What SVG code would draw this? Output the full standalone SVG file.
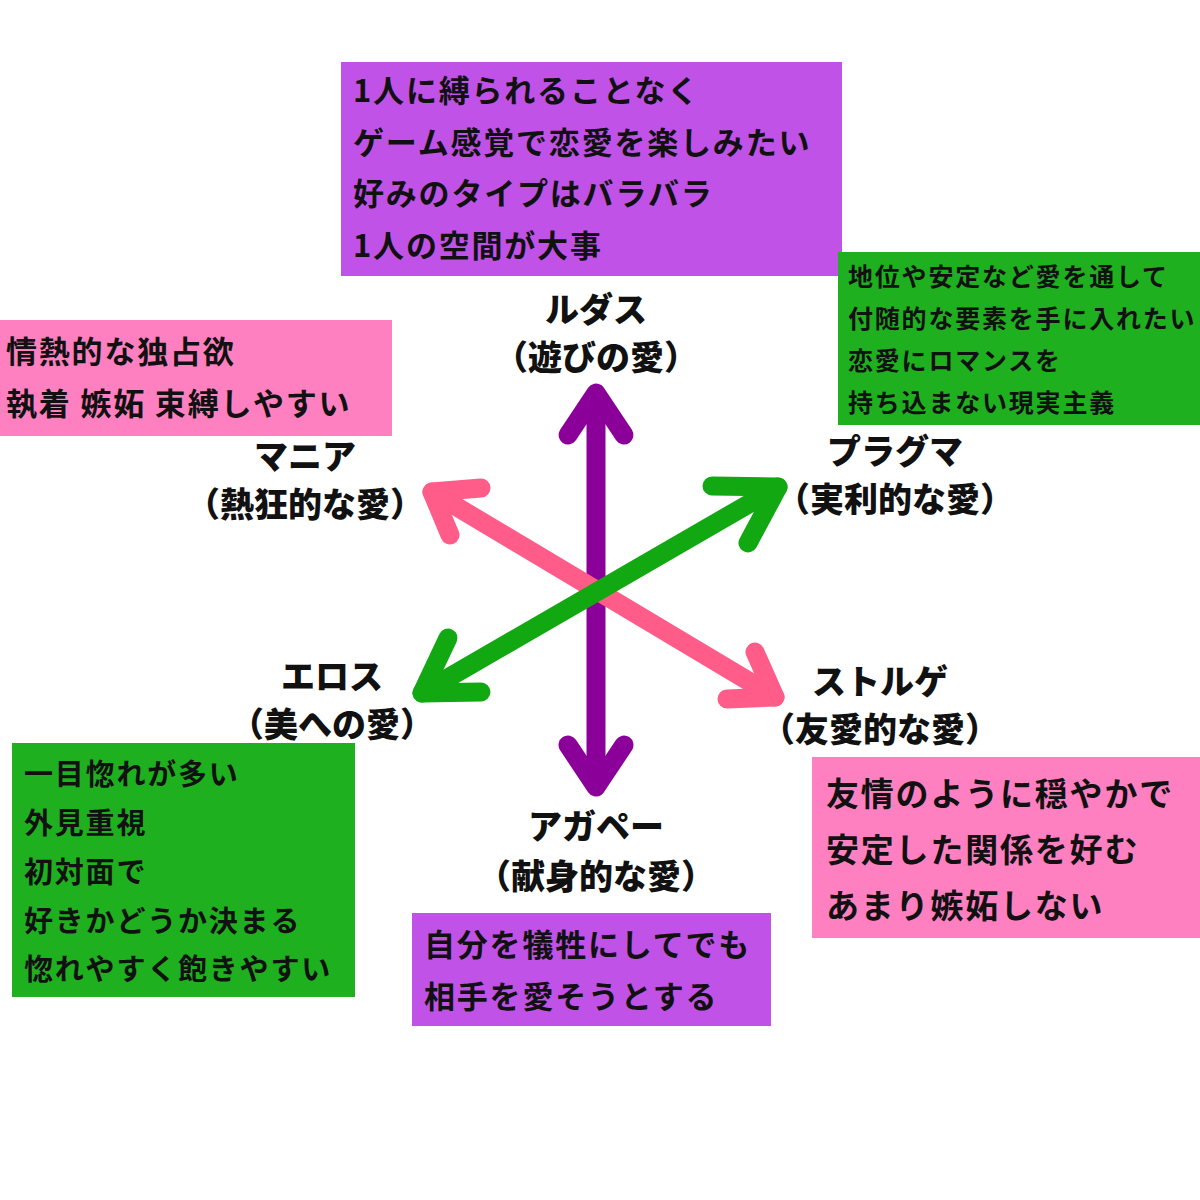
<svg xmlns="http://www.w3.org/2000/svg" width="1200" height="1200" viewBox="0 0 1200 1200">
<style>
.bt{font-family:"Noto Sans CJK JP","Noto Sans CJK SC",sans-serif;font-weight:700;fill:#111;letter-spacing:1.8px}
.lb{font-family:"Noto Sans CJK JP",sans-serif;font-weight:900;font-size:34px;fill:#111;text-anchor:middle}
.ar{fill:none;stroke-width:19;stroke-linecap:round;stroke-linejoin:round}
</style>
<rect width="1200" height="1200" fill="#fff"/>
<g id="connectors">
<g stroke="#8b0099" class="ar"><line x1="596" y1="395" x2="596" y2="785"/><polyline points="568,435 596,393 624,435"/><polyline points="568,745 596,787 624,745"/></g>
<g stroke="#ff5c8a" class="ar"><line x1="432" y1="492" x2="775" y2="697"/><polyline points="450,535 432,492 481,488"/><polyline points="755,652 775,697 727,699"/></g>
<g stroke="#12a812" class="ar"><line x1="778" y1="487" x2="422" y2="693"/><polyline points="712,486 778,487 748,543"/><polyline points="448,638 422,693 481,692"/></g>
</g>
<g id="ludus"><rect x="341" y="62" width="501" height="214" fill="#c152e8"/>
<g class="bt" font-size="31"><text x="353" y="102">1人に縛られることなく</text><text x="353" y="154">ゲーム感覚で恋愛を楽しみたい</text><text x="353" y="205">好みのタイプはバラバラ</text><text x="353" y="257">1人の空間が大事</text></g>
<text class="lb" x="596" y="322">ルダス</text><text class="lb" x="596" y="370">（遊びの愛）</text></g>
<g id="pragma"><rect x="838" y="252" width="362" height="173" fill="#1eb01e"/>
<g class="bt" font-size="25"><text x="848" y="286">地位や安定など愛を通して</text><text x="848" y="328">付随的な要素を手に入れたい</text><text x="848" y="370">恋愛にロマンスを</text><text x="848" y="412">持ち込まない現実主義</text></g>
<text class="lb" x="895" y="464">プラグマ</text><text class="lb" x="895" y="512">（実利的な愛）</text></g>
<g id="mania"><rect x="0" y="320" width="392" height="116" fill="#ff80c0"/>
<g class="bt" font-size="31"><text x="6" y="363">情熱的な独占欲</text><text x="6" y="415">執着 嫉妬 束縛しやすい</text></g>
<text class="lb" x="305" y="469">マニア</text><text class="lb" x="305" y="517">（熱狂的な愛）</text></g>
<g id="eros"><rect x="12" y="743" width="343" height="254" fill="#1eb01e"/>
<g class="bt" font-size="29"><text x="24" y="785">一目惚れが多い</text><text x="24" y="834">外見重視</text><text x="24" y="883">初対面で</text><text x="24" y="932">好きかどうか決まる</text><text x="24" y="980">惚れやすく飽きやすい</text></g>
<text class="lb" x="332" y="689">エロス</text><text class="lb" x="332" y="737">（美への愛）</text></g>
<g id="storge"><rect x="812" y="757" width="388" height="181" fill="#ff80c0"/>
<g class="bt" font-size="33"><text x="826" y="806">友情のように穏やかで</text><text x="826" y="862">安定した関係を好む</text><text x="826" y="918">あまり嫉妬しない</text></g>
<text class="lb" x="880" y="694">ストルゲ</text><text class="lb" x="880" y="742">（友愛的な愛）</text></g>
<g id="agape"><rect x="412" y="913" width="359" height="113" fill="#c152e8"/>
<g class="bt" font-size="31"><text x="424" y="956">自分を犠牲にしてでも</text><text x="424" y="1008">相手を愛そうとする</text></g>
<text class="lb" x="596" y="839">アガペー</text><text class="lb" x="596" y="889">（献身的な愛）</text></g>
</svg>
